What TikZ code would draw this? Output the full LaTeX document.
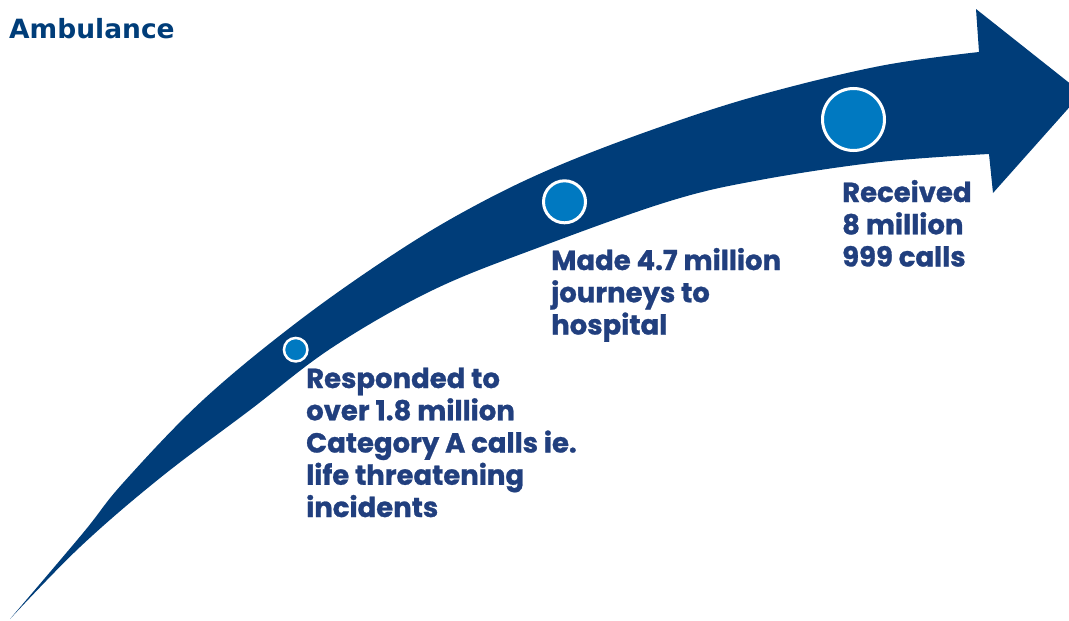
\documentclass[tikz,border=0pt]{standalone}
\usepackage{fontspec}
\setmainfont{Poppins}[BoldFeatures={FakeBold=1}]
\newfontfamily\titlefont{DejaVu Sans}
\definecolor{navy}{HTML}{003D79}
\definecolor{dotblue}{HTML}{0079C1}
\definecolor{txtblue}{HTML}{213F7E}
\begin{document}
\begin{tikzpicture}[x=1pt,y=-1pt,
  stat/.style={anchor=base west, inner sep=0pt, text=txtblue,
    font=\bfseries\fontsize{27.5}{32.25}\selectfont},
  dot/.style={circle, fill=dotblue, draw=white, line width=3pt, inner sep=0pt}]
\useasboundingbox (0,0) rectangle (1069,621);
\clip (0,0) rectangle (1069,621);
% curved arrow
\fill[navy] plot[smooth, tension=0.6] coordinates {(10,619) (83,533) (123,483) (203,400) (300,320) (400,250) (480,203) (560,165) (660,127) (760,95) (880,66) (979,52)}
  -- (976,9) -- (1082,93) -- (993,193)
  -- plot[smooth, tension=0.6] coordinates {(989,154) (880,162) (760,180) (670,201) (540,247) (433,290) (333,347) (250,410) (160,478) (80,547) (10,619)}
  -- cycle;
% milestones
\node[dot, minimum size=23.5pt, line width=2.5pt] (d1) at (295.7,349.7) {};
\node[dot, minimum size=42pt] (d2) at (564.5,201.8) {};
\node[dot, minimum size=62pt] (d3) at (853.5,119.5) {};
% title
\node[anchor=base west, inner sep=0pt, text=navy, font=\titlefont\bfseries\fontsize{26.5}{32}\selectfont] (title) at (9,38) {Ambulance};
% labels
\node[stat] (t1) at (306,388) {\begin{tabular}[t]{@{}l@{}}Responded to\\over 1.8 million\\Category A calls ie.\\life threatening\\incidents\end{tabular}};
\node[stat] (t2) at (551,270) {\begin{tabular}[t]{@{}l@{}}Made 4.7 million\\journeys to\\hospital\end{tabular}};
\node[stat] (t3) at (842,202) {\begin{tabular}[t]{@{}l@{}}Received\\8 million\\999 calls\end{tabular}};
\end{tikzpicture}
\end{document}
